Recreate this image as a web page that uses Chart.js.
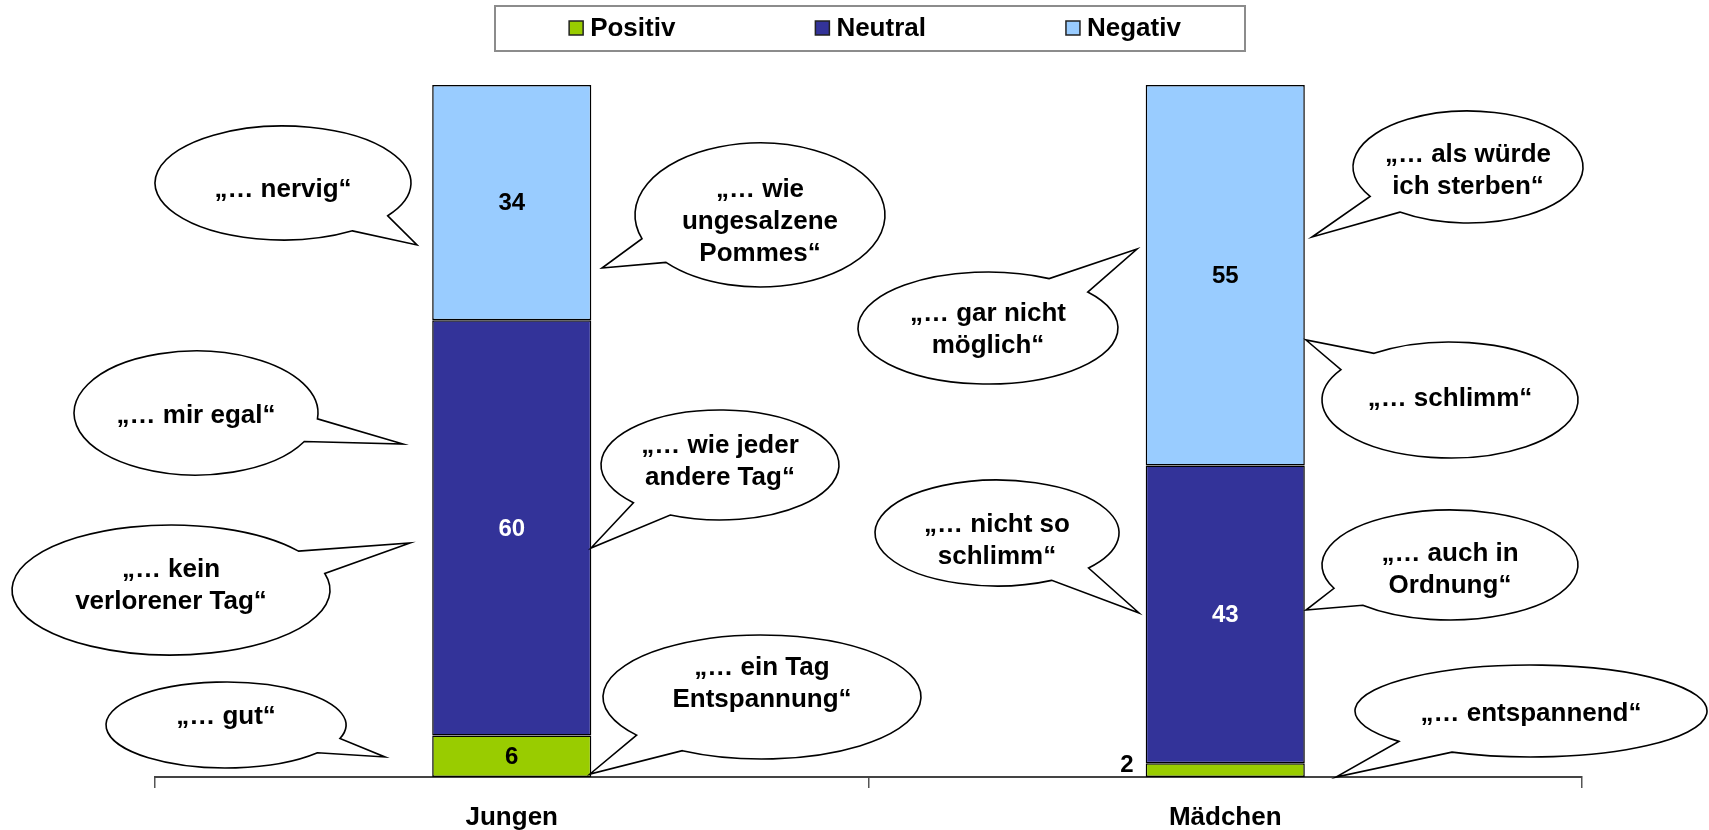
<!DOCTYPE html>
<html lang="de">
<head>
<meta charset="utf-8">
<title>Freier Tag – Jungen und Mädchen</title>
<script src="https://cdn.jsdelivr.net/npm/chart.js@4.4.1/dist/chart.umd.min.js"></script>
<style>
  html, body { margin: 0; padding: 0; background: #ffffff; }
  #wrap { width: 1709px; height: 830px; }
</style>
</head>
<body>
<div id="wrap"><canvas id="chart" width="1709" height="830"></canvas></div>
<script>
// Categories and stacked shares (percent)
const categories = ['Jungen', 'Mädchen'];
const seriesNames = ['Positiv', 'Neutral', 'Negativ'];
const positivValues = [6, 2];
const neutralValues = [60, 43];
const negativValues = [34, 55];

const FONT = '"Liberation Sans", Arial, Helvetica, sans-serif';
const seriesColors = ['#99CC00', '#333399', '#99CCFF'];
const valueLabelColors = ['#000000', '#FFFFFF', '#000000'];

// Quoted statements shown as speech bubbles beside the bars
const quoteTexts = [
  ['„… nervig“'],
  ['„… wie', 'ungesalzene', 'Pommes“'],
  ['„… mir egal“'],
  ['„… wie jeder', 'andere Tag“'],
  ['„… kein', 'verlorener Tag“'],
  ['„… gut“'],
  ['„… ein Tag', 'Entspannung“'],
  ['„… als würde', 'ich sterben“'],
  ['„… gar nicht', 'möglich“'],
  ['„… schlimm“'],
  ['„… nicht so', 'schlimm“'],
  ['„… auch in', 'Ordnung“'],
  ['„… entspannend“']
];

// Bubble geometry: ellipse centre, radii, the point of the wedge and a text shift
const bubbleShapes = [
  { cx: 283,  cy: 183, rx: 128, ry: 57, tipX: 417,  tipY: 245, dy: 6 },
  { cx: 760,  cy: 215, rx: 125, ry: 72, tipX: 602,  tipY: 268, dy: 6 },
  { cx: 196,  cy: 413, rx: 122, ry: 62, tipX: 403,  tipY: 444, dy: 2 },
  { cx: 720,  cy: 465, rx: 119, ry: 55, tipX: 591,  tipY: 548, dy: -4 },
  { cx: 171,  cy: 590, rx: 159, ry: 65, tipX: 410,  tipY: 543, dy: -5 },
  { cx: 226,  cy: 725, rx: 120, ry: 43, tipX: 385,  tipY: 757, dy: -9 },
  { cx: 762,  cy: 697, rx: 159, ry: 62, tipX: 590,  tipY: 774, dy: -14 },
  { cx: 1468, cy: 167, rx: 115, ry: 56, tipX: 1312, tipY: 237, dy: 3 },
  { cx: 988,  cy: 328, rx: 130, ry: 56, tipX: 1137, tipY: 249, dy: 1 },
  { cx: 1450, cy: 400, rx: 128, ry: 58, tipX: 1306, tipY: 340, dy: -2 },
  { cx: 997,  cy: 533, rx: 122, ry: 53, tipX: 1139, tipY: 613, dy: 7 },
  { cx: 1450, cy: 565, rx: 128, ry: 55, tipX: 1306, tipY: 610, dy: 4 },
  { cx: 1531, cy: 711, rx: 176, ry: 46, tipX: 1336, tipY: 777, dy: 2 }
];

function drawBubble(ctx, shape, lines) {
  // wedge leaves the ellipse ±11° around the direction of its point
  const a = Math.atan2((shape.tipY - shape.cy) / shape.ry, (shape.tipX - shape.cx) / shape.rx);
  const d = 11 * Math.PI / 180;
  ctx.beginPath();
  ctx.ellipse(shape.cx, shape.cy, shape.rx, shape.ry, 0, a + d, a - d + 2 * Math.PI);
  ctx.lineTo(shape.tipX, shape.tipY);
  ctx.closePath();
  ctx.fillStyle = '#ffffff';
  ctx.fill();
  ctx.lineWidth = 1.6;
  ctx.strokeStyle = '#000000';
  ctx.lineJoin = 'miter';
  ctx.stroke();

  ctx.fillStyle = '#000000';
  ctx.font = 'bold 26px ' + FONT;
  ctx.textAlign = 'center';
  ctx.textBaseline = 'middle';
  const lh = 32;
  const n = lines.length;
  lines.forEach((t, i) => {
    ctx.fillText(t, shape.cx, shape.cy + shape.dy + 1 + (i - (n - 1) / 2) * lh);
  });
}

const speechBubbles = {
  id: 'speechBubbles',
  afterDraw(chart) {
    const ctx = chart.ctx;
    ctx.save();
    bubbleShapes.forEach((s, i) => drawBubble(ctx, s, quoteTexts[i]));
    ctx.restore();
  }
};

// Values written on each stacked segment
const segmentValues = {
  id: 'segmentValues',
  afterDatasetsDraw(chart) {
    const ctx = chart.ctx;
    ctx.save();
    ctx.font = 'bold 24px ' + FONT;
    ctx.textBaseline = 'middle';
    chart.data.datasets.forEach((ds, di) => {
      const meta = chart.getDatasetMeta(di);
      meta.data.forEach((bar, j) => {
        const v = ds.data[j];
        const h = Math.abs(bar.base - bar.y);
        if (h < 24) {
          // too thin for the number: write it beside the bar
          ctx.fillStyle = '#000000';
          ctx.textAlign = 'right';
          ctx.fillText(String(v), bar.x - bar.width / 2 - 12, bar.base - 12);
        } else {
          ctx.fillStyle = ds.valueColor;
          ctx.textAlign = 'center';
          ctx.fillText(String(v), bar.x, (bar.y + bar.base) / 2 + 1);
        }
      });
    });
    ctx.restore();
  }
};

// Framed legend row above the plot
const framedLegend = {
  id: 'framedLegend',
  afterDraw(chart) {
    const ctx = chart.ctx;
    const ds = chart.data.datasets;
    ctx.save();
    ctx.strokeStyle = '#8c8c8c';
    ctx.lineWidth = 2;
    ctx.strokeRect(495, 6, 750, 45);

    ctx.font = 'bold 26px ' + FONT;
    const box = 14, gapText = 7, gapItem = 140, cy = 28;
    const widths = ds.map(d => box + gapText + ctx.measureText(d.label).width);
    const total = widths.reduce((a, b) => a + b, 0) + gapItem * (ds.length - 1);
    let x = 875 - total / 2;
    ds.forEach((d, i) => {
      ctx.fillStyle = d.backgroundColor;
      ctx.fillRect(x, cy - 7, box, box);
      ctx.strokeStyle = '#222222';
      ctx.lineWidth = 1.5;
      ctx.strokeRect(x, cy - 7, box, box);
      ctx.fillStyle = '#000000';
      ctx.textAlign = 'left';
      ctx.textBaseline = 'middle';
      ctx.fillText(d.label, x + box + gapText, cy + 1);
      x += widths[i] + gapItem;
    });
    ctx.restore();
  }
};

const seriesData = [positivValues, neutralValues, negativValues];

new Chart(document.getElementById('chart'), {
  type: 'bar',
  data: {
    labels: categories,
    datasets: seriesNames.map((name, i) => ({
      label: name,
      data: seriesData[i],
      backgroundColor: seriesColors[i],
      borderColor: '#000000',
      borderWidth: 1.5,
      borderSkipped: false,
      valueColor: valueLabelColors[i],
      barPercentage: 0.223,
      categoryPercentage: 1
    }))
  },
  options: {
    responsive: false,
    devicePixelRatio: 1,
    animation: false,
    layout: { padding: { left: 155, right: 127, top: 85, bottom: 0 } },
    plugins: {
      legend: { display: false },
      tooltip: { enabled: false }
    },
    scales: {
      x: {
        stacked: true,
        offset: true,
        grid: {
          display: true,
          offset: true,
          drawOnChartArea: false,
          drawTicks: true,
          tickLength: 11,
          color: '#555555',
          lineWidth: 1.5
        },
        border: { display: true, color: '#444444', width: 2 },
        ticks: {
          color: '#000000',
          padding: 14,
          font: { family: FONT, size: 26, weight: 'bold' }
        },
        afterFit(scale) { scale.height = 53; }
      },
      y: {
        stacked: true,
        display: false,
        min: 0,
        max: 100
      }
    }
  },
  plugins: [segmentValues, speechBubbles, framedLegend]
});
</script>
</body>
</html>
